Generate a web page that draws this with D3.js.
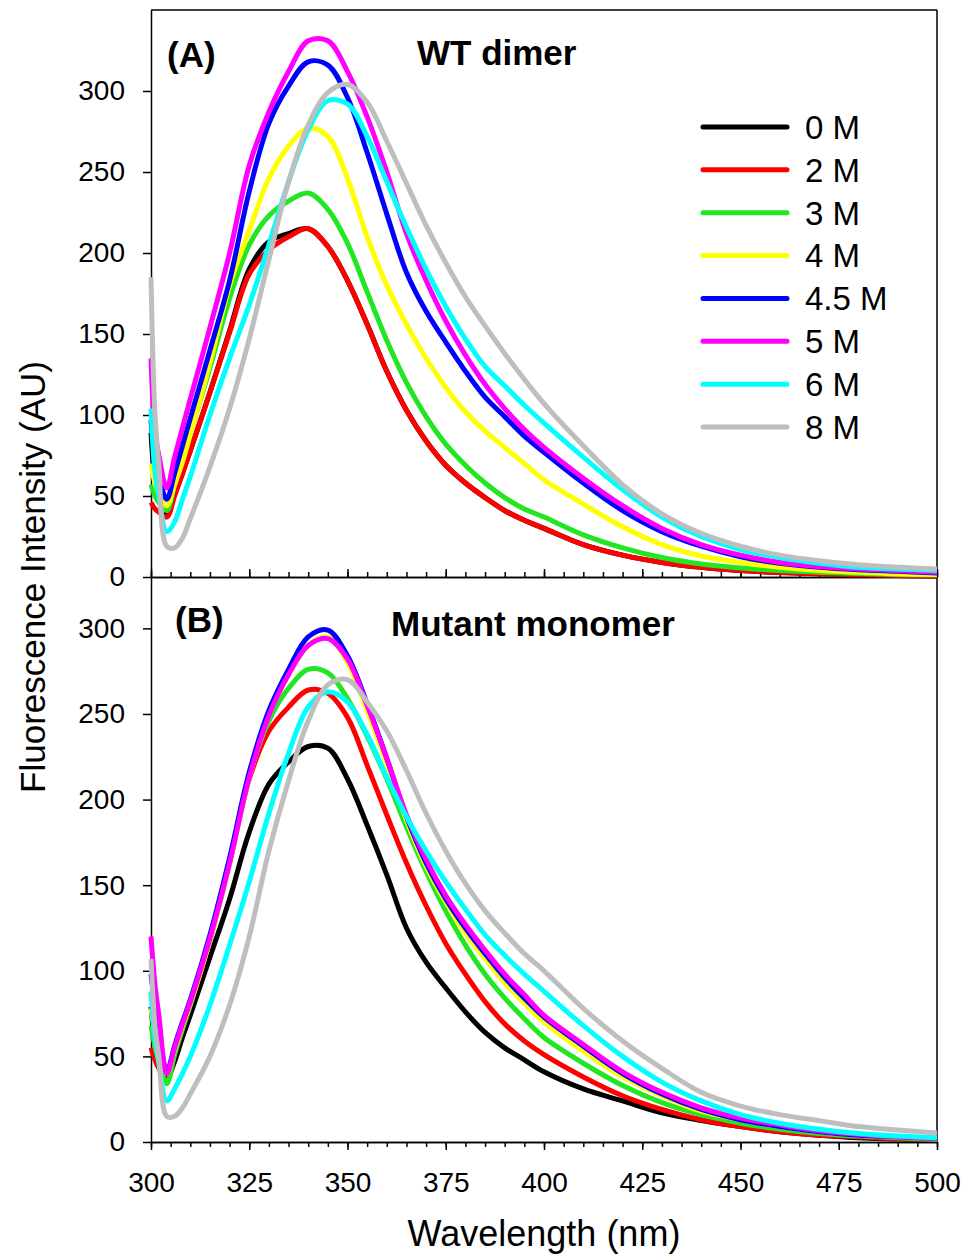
<!DOCTYPE html>
<html><head><meta charset="utf-8">
<script src="https://cdn.jsdelivr.net/npm/d3@7"></script>
<style>
html,body{margin:0;padding:0;background:#fff;}
svg{display:block;}
</style></head><body>
<svg id="chart" width="966" height="1258"></svg>
<script>
// ---- data ----
const wavelengths = [300, 301, 302, 304, 306, 308, 310, 315, 320, 325, 330, 335, 340, 345, 350, 355, 360, 365, 370, 375, 380, 385, 390, 395, 400, 410, 420, 430, 440, 450, 460, 470, 480, 490, 500];
const seriesLabels = ["0 M", "2 M", "3 M", "4 M", "4.5 M", "5 M", "6 M", "8 M"];
const xTickValues = [300, 325, 350, 375, 400, 425, 450, 475, 500];
const yTickValues = [0, 50, 100, 150, 200, 250, 300];
const panelTitles = ["WT dimer", "Mutant monomer"];
const panelTags = ["(A)", "(B)"];

// (A) WT dimer
const wt0M  = [89,60,50,38,51,64,78,114,152,190, 207,212,215,204,183,156,127,103,84,69, 58,49,41,35,30, 20,13.5,9,6,4,2.8,2,1.4,1,0.6];
const wt2M  = [46,42,40,37,50,64,78,114,151,187, 202,210,215,204,183,156,127,103,84,69, 58,49,41,35,30, 20,13.5,9,6,4,2.8,2,1.4,1,0.6];
const wt3M  = [57,50,46,41,57,73,89,129,172,205, 223,232,237,227,206,176,146,120,99,82, 69,58,49,42,37, 26,18,12,8,5.5,4,3,2.2,1.6,1.2];
const wt4M  = [70,58,52,44,57,71,88,132,180,214, 246,266,277,272,246,210,180,156,135,117, 102,90,80,70,60, 45,31,20,13,9,6,4,3,2,1.5];
const wt45M = [97,72,62,48,64,81,98,140,183,238, 280,303,318,316,296,262,224,188,164,145, 127,111,99,87,77, 58,41,28,19,12.5,8.5,6,4.5,3.5,2.5];
const wt5M  = [135,90,75,55,74,92,110,154,200,254, 287,312,331,331,312,284,250,212,183,158, 137,119,104,91,80, 61,44,30,20,13.5,9,6.5,5,4,3];
const wt6M  = [104,65,50,28,34,48,62,100,135,168, 205,244,276,294,292,272,244,216,190,167, 147,130,118,106,95, 74,54,37,25,17,12,8.5,6,5,4];
const wt8M  = [185,101,69,19,18,24,36,68,104,147, 196,244,279,299,304,293,269,243,217,194, 173,155,138,122,107, 81,57,39,27,19,13.5,10,7.5,6,5];

// (B) Mutant monomer
const mut0M  = [79,58,48,37,47,61,74,108,142,181, 209,222,231,230,212,185,156,125,105,90, 76,64,55,48,41, 31,24,17,12.5,9,6,4,2.5,1.8,1.2];
const mut2M  = [55,48,43,36,51,66,80,118,163,212, 240,254,264,262,248,220,191,163,138,116, 98,82,69,59,51, 38,27,19,13,9,6,4,3,2,1.5];
const mut3M  = [68,56,48,34,51,66,80,118,164,214, 246,265,276,274,259,237,212,184,158,135, 115,98,84,72,61, 46,33,23,16,11,7.5,5,3.5,2.5,1.5];
const mut4M  = [78,64,55,40,54,68,81,118,163,213, 249,273,290,295,280,252,221,188,161,140, 122,107,93,81,70, 53,38,27,18,13,9,6,4,3,2];
const mut45M = [98,80,66,41,56,70,83,121,166,216, 252,276,295,299,284,256,224,190,163,142, 125,110,96,84,73, 56,40,28,19,13,9,6,4,3,2];
const mut5M  = [120,92,74,40,55,69,82,119,163,213, 249,273,290,294,282,255,224,191,165,144, 127,112,98,86,74, 57,41,29,20,14,10,6.5,4.5,3,2];
const mut6M  = [88,60,46,24,31,40,50,80,115,152, 192,227,254,263,257,238,213,190,170,152, 136,121,109,98,88, 68,50,35,24,16,11,7.5,5,3.5,2.5];
const mut8M  = [107,68,50,15,15,20,28,50,80,120, 170,211,246,267,270,257,240,217,192,170, 151,135,122,110,100, 78,59,43,29,21,16,12.5,9,7,5.3];

// ---- drawing ----
const colors = ["#000000", "#ff0000", "#22e622", "#ffff00", "#0000ff", "#ff00ff", "#00ffff", "#bebebe"];
const FONT = "'Liberation Sans', Arial, Helvetica, sans-serif";

const svg = d3.select("#chart");
const x = d3.scaleLinear().domain([300, 500]).range([151, 937]);
const yA = d3.scaleLinear().domain([0, 350]).range([577, 10]);
const yB = d3.scaleLinear().domain([0, 330]).range([1142, 577]);

const panels = [
  { y: yA, series: [wt0M, wt2M, wt3M, wt4M, wt45M, wt5M, wt6M, wt8M] },
  { y: yB, series: [mut0M, mut2M, mut3M, mut4M, mut45M, mut5M, mut6M, mut8M] }
];

function styleAxis(g, fs) {
  g.selectAll("path,line").attr("stroke", "#000").attr("stroke-width", 1.5);
  g.selectAll("text").attr("font-family", FONT).attr("font-size", fs).attr("fill", "#000");
}

// y axes
panels.forEach(p => {
  const g = svg.append("g").attr("transform", "translate(151,0)")
    .call(d3.axisLeft(p.y).tickValues(yTickValues).tickSize(8).tickSizeOuter(0).tickPadding(18));
  styleAxis(g, 28);
});

// x axis at bottom of panel B
const minorTicks = d3.range(300, 501, 5);
const gxB = svg.append("g").attr("transform", "translate(0,1142)")
  .call(d3.axisBottom(x).tickValues(xTickValues).tickSize(8).tickSizeOuter(0).tickPadding(22));
styleAxis(gxB, 28);
const gxBm = svg.append("g").attr("transform", "translate(0,1142)")
  .call(d3.axisBottom(x).tickValues(minorTicks).tickSize(5).tickSizeOuter(0).tickFormat(""));
styleAxis(gxBm, 28);

// shared axis between panels (ticks pointing into A)
const gxA = svg.append("g").attr("transform", "translate(0,577)")
  .call(d3.axisTop(x).tickValues(xTickValues).tickSize(8).tickSizeOuter(0).tickFormat(""));
styleAxis(gxA, 28);
const gxAm = svg.append("g").attr("transform", "translate(0,577)")
  .call(d3.axisTop(x).tickValues(minorTicks).tickSize(5).tickSizeOuter(0).tickFormat(""));
styleAxis(gxAm, 28);

// frame (top of A, right side)
svg.append("line").attr("x1", x(300)).attr("x2", x(500)).attr("y1", yA(350)).attr("y2", yA(350))
  .attr("stroke", "#000").attr("stroke-width", 1.5);
svg.append("line").attr("x1", x(500)).attr("x2", x(500)).attr("y1", yA(350)).attr("y2", yB(0))
  .attr("stroke", "#000").attr("stroke-width", 1.5);

// curves
panels.forEach(p => {
  const line = d3.line()
    .x((d, i) => x(wavelengths[i]))
    .y(d => p.y(d))
    .curve(d3.curveCatmullRom.alpha(0.5));
  p.series.forEach((vals, k) => {
    svg.append("path").attr("d", line(vals))
      .attr("fill", "none").attr("stroke", colors[k]).attr("stroke-width", 5)
      .attr("stroke-linejoin", "round").attr("stroke-linecap", "butt");
  });
});

// legend
const leg = svg.append("g");
seriesLabels.forEach((lab, i) => {
  const yy = 127 + i * 42.86;
  leg.append("line").attr("x1", 703).attr("x2", 787).attr("y1", yy).attr("y2", yy)
    .attr("stroke", colors[i]).attr("stroke-width", 5).attr("stroke-linecap", "round");
  leg.append("text").attr("x", 805).attr("y", yy).attr("dy", "0.36em")
    .attr("font-family", FONT).attr("font-size", 33).text(lab);
});

// panel labels
const labPos = [{tx: 167, ty: 67, lx: 417, ly: 65}, {tx: 175, ty: 632, lx: 391, ly: 636}];
labPos.forEach((p, i) => {
  svg.append("text").attr("x", p.tx).attr("y", p.ty).attr("font-family", FONT)
    .attr("font-weight", "bold").attr("font-size", 35).text(panelTags[i]);
  svg.append("text").attr("x", p.lx).attr("y", p.ly).attr("font-family", FONT)
    .attr("font-weight", "bold").attr("font-size", 35).text(panelTitles[i]);
});

// axis titles
svg.append("text").attr("x", 544).attr("y", 1246).attr("text-anchor", "middle")
  .attr("font-family", FONT).attr("font-size", 36).text("Wavelength (nm)");
svg.append("text").attr("transform", "translate(45,577) rotate(-90)").attr("text-anchor", "middle")
  .attr("font-family", FONT).attr("font-size", 35).text("Fluorescence Intensity (AU)");
</script>
</body></html>
